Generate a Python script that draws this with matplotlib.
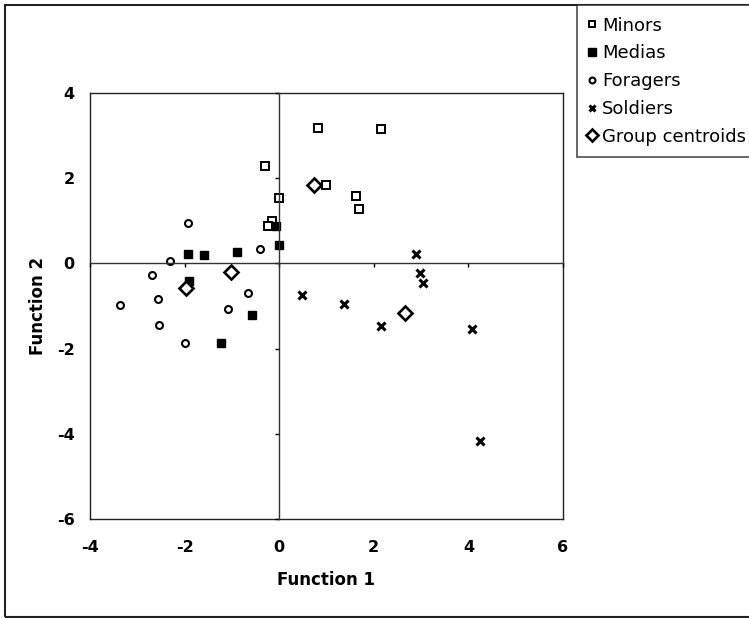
import matplotlib
matplotlib.use("Agg")
import matplotlib.pyplot as plt
from matplotlib.patches import Rectangle

plt.rcParams["axes.unicode_minus"] = False

# discriminant scores
minors_x = [0.82, 2.16, -0.31, 0.99, 0.00, 1.62, 1.68, -0.16, -0.23]
minors_y = [3.18, 3.15, 2.28, 1.85, 1.54, 1.58, 1.28, 1.00, 0.88]

medias_x = [-0.06, 0.00, -1.93, -1.59, -0.90, -1.90, -0.57, -1.22]
medias_y = [0.88, 0.44, 0.23, 0.20, 0.26, -0.42, -1.20, -1.88]

foragers_x = [-1.93, -2.31, -0.40, -2.69, -2.57, -3.36, -0.66, -1.08, -2.54, -1.99]
foragers_y = [0.96, 0.06, 0.34, -0.27, -0.84, -0.97, -0.70, -1.06, -1.44, -1.88]

soldiers_x = [2.90, 2.97, 3.05, 0.49, 1.38, 2.16, 4.07, 4.24]
soldiers_y = [0.21, -0.23, -0.45, -0.74, -0.96, -1.47, -1.53, -4.18]

centroid_x = [0.74, -1.01, -1.96, 2.67]
centroid_y = [1.84, -0.21, -0.58, -1.17]

x_ticks = [-4, -2, 0, 2, 4, 6]
y_ticks = [-6, -4, -2, 0, 2, 4]

W, H = 749, 618
fig = plt.figure(figsize=(W / 100, H / 100), dpi=100)

# outer chart border (right side runs off the picture)
fig.patches.append(Rectangle((5 / W, 1 / H), 760 / W, 612 / H, transform=fig.transFigure,
                             fill=False, edgecolor="#222222", lw=1.5))

pos = [90 / W, (H - 519) / H, (563 - 90) / W, (519 - 93) / H]
ax = fig.add_axes(pos)
ax.set_xlim(-4, 6)
ax.set_ylim(-6, 4)
ax.set_xticks(x_ticks)
ax.set_yticks(y_ticks)
ax.tick_params(length=0)
ax.tick_params(axis="x", pad=15)
ax.tick_params(axis="y", pad=11)
for lab in ax.get_xticklabels() + ax.get_yticklabels():
    lab.set_fontweight("bold")
    lab.set_fontsize(11.5)
for s in ax.spines.values():
    s.set_linewidth(1.0)
    s.set_color("#222222")

# axes crossing at zero, with outward ticks
ax2 = fig.add_axes(pos, sharex=ax, sharey=ax)
ax2.patch.set_visible(False)
ax2.spines["top"].set_visible(False)
ax2.spines["right"].set_visible(False)
ax2.spines["left"].set_position(("data", 0))
ax2.spines["bottom"].set_position(("data", 0))
for s in ("left", "bottom"):
    ax2.spines[s].set_linewidth(1.0)
    ax2.spines[s].set_color("#333333")
ax2.tick_params(direction="out", length=3, width=1, labelbottom=False, labelleft=False)

mk = dict(linestyle="none", color="black")
ax2.plot(minors_x, minors_y, marker="s", markersize=5.5, markerfacecolor="white",
         markeredgewidth=1.4, label="Minors", **mk)
ax2.plot(medias_x, medias_y, marker="s", markersize=6, label="Medias", **mk)
ax2.plot(foragers_x, foragers_y, marker="o", markersize=5, markerfacecolor="white",
         markeredgewidth=1.5, label="Foragers", **mk)
ax2.plot(soldiers_x, soldiers_y, marker="x", markersize=5.5, markeredgewidth=2.2,
         label="Soldiers", **mk)
ax2.plot(centroid_x, centroid_y, marker="D", markersize=7.5, markerfacecolor="white",
         markeredgewidth=1.9, label="Group centroids", **mk)

fig.text(326 / W, 1 - 580 / H, "Function 1", ha="center", va="center",
         fontsize=12, fontweight="bold")
fig.text(38 / W, 1 - 306 / H, "Function 2", ha="center", va="center", rotation=90,
         fontsize=12, fontweight="bold")

leg = fig.legend(loc="upper left", bbox_to_anchor=(577 / W, 1 - 5 / H), borderaxespad=0,
                 fontsize=13, frameon=True, fancybox=False, handlelength=0.4,
                 handletextpad=0.35, borderpad=0.65, labelspacing=0.54, markerscale=0.85)
leg.get_frame().set_edgecolor("#222222")
leg.get_frame().set_linewidth(1.2)

fig.savefig("out.png", dpi=100)
